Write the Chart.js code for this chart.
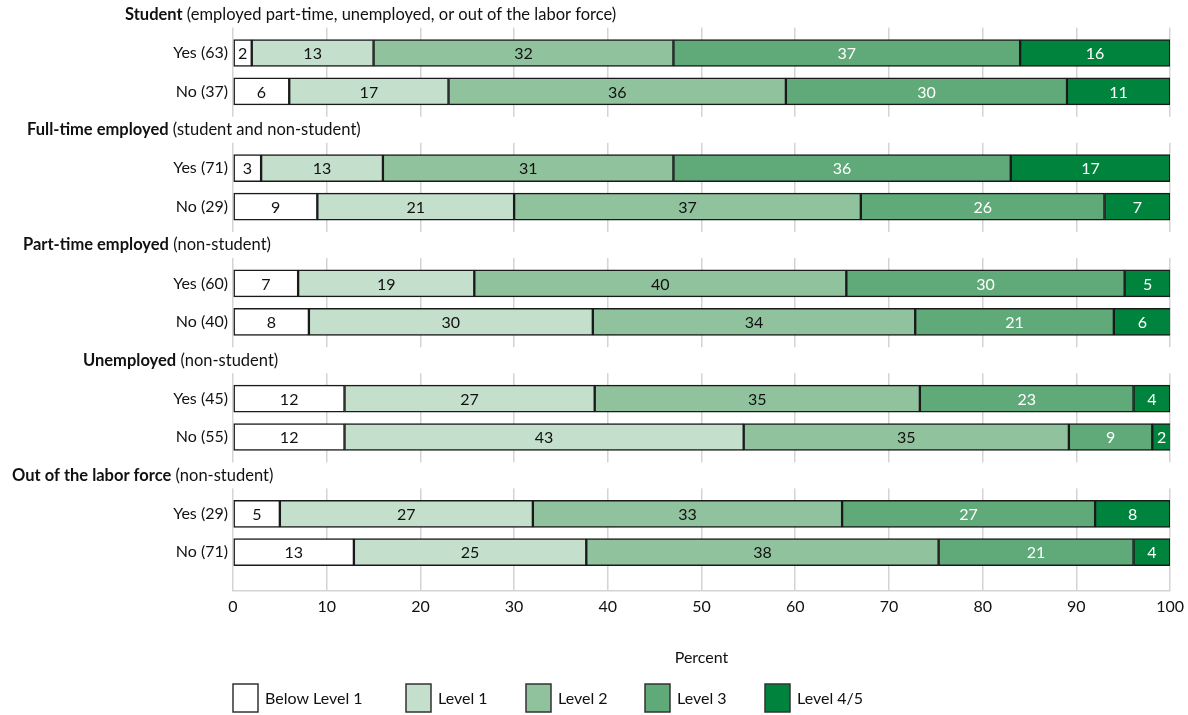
<!DOCTYPE html>
<html>
<head>
<meta charset="utf-8">
<script src="https://cdn.jsdelivr.net/npm/chart.js@4.4.0/dist/chart.umd.min.js"></script>
<style>
  html, body { margin: 0; padding: 0; background: #fff; }
  #wrap { width: 1188px; height: 715px; }
</style>
</head>
<body>
<div id="wrap"><canvas id="grafico"></canvas></div>
<script>
// linhas do eixo y; as linhas vazias são os títulos dos grupos
const rowLabels = ['', 'Yes (63)', 'No (37)', '', 'Yes (71)', 'No (29)', '', 'Yes (60)', 'No (40)',
  '', 'Yes (45)', 'No (55)', '', 'Yes (29)', 'No (71)', ''];
const headerRows = [0, 3, 6, 9, 12];
const groupTitles = [
  ['Student', ' (employed part-time, unemployed, or out of the labor force)'],
  ['Full-time employed', ' (student and non-student)'],
  ['Part-time employed', ' (non-student)'],
  ['Unemployed', ' (non-student)'],
  ['Out of the labor force', ' (non-student)']
];
const levels = ['Below Level 1', 'Level 1', 'Level 2', 'Level 3', 'Level 4/5'];

// valores por barra (Student yes/no, Full-time yes/no, Part-time yes/no, Unemployed yes/no, Out yes/no)
const belowLevel1 = [2, 6, 3, 9, 6.95, 8.1, 11.9, 11.9, 5, 12.9];
const level1 = [13, 17, 13, 21, 18.8, 30.3, 26.7, 42.6, 27, 24.8];
const level2 = [32, 36, 31, 37, 39.7, 34.4, 34.7, 34.7, 33, 37.6];
const level3 = [37, 30, 36, 26, 29.7, 21.2, 22.8, 8.9, 27, 20.8];
const level45 = [16, 11, 17, 7, 4.9, 6.1, 3.9, 2.0, 8, 3.9];

const FONTE = 'Lato, "Noto Sans", sans-serif';
const TEXTO = '#111111';
const cores = ['#ffffff', '#c4dfcc', '#91c29e', '#5faa78', '#00843d'];
const coresRotulo = [TEXTO, TEXTO, TEXTO, '#ffffff', '#ffffff'];
const headerLeft = [125, 27, 23, 83, 12];
const legendOffsets = [0, 173, 293, 412, 532];

function paraLinhas(valores) {
  let k = 0;
  return rowLabels.map(l => (l ? valores[k++] : null));
}

const series = [belowLevel1, level1, level2, level3, level45];

const rotulosPlugin = {
  id: 'rotulos',
  beforeDatasetsDraw(chart) {
    // apaga as linhas de grelha por trás dos títulos dos grupos
    const { ctx, chartArea, scales: { y } } = chart;
    ctx.save();
    ctx.fillStyle = '#ffffff';
    headerRows.forEach(i => {
      const yy = y.getPixelForValue(i);
      ctx.fillRect(chartArea.left - 3, yy - 13, chartArea.right - chartArea.left + 6, 26);
    });
    ctx.restore();
  },
  afterDatasetsDraw(chart) {
    const { ctx } = chart;
    ctx.save();
    ctx.font = '16px ' + FONTE;
    ctx.textAlign = 'center';
    ctx.textBaseline = 'middle';
    chart.data.datasets.forEach((ds, di) => {
      const meta = chart.getDatasetMeta(di);
      meta.data.forEach((el, i) => {
        const v = ds.data[i];
        if (v === null || v === undefined) return;
        ctx.fillStyle = coresRotulo[di];
        ctx.fillText(String(Math.round(v)), (el.x + el.base) / 2, el.y + 1);
      });
    });
    ctx.restore();
  },
  afterDraw(chart) {
    const { ctx, chartArea, scales: { y } } = chart;
    ctx.save();
    ctx.textBaseline = 'middle';
    ctx.textAlign = 'left';
    ctx.fillStyle = TEXTO;
    // títulos dos grupos
    headerRows.forEach((row, g) => {
      const yy = y.getPixelForValue(row);
      let x = headerLeft[g];
      ctx.font = 'bold 16.5px ' + FONTE;
      ctx.fillText(groupTitles[g][0], x, yy);
      x += ctx.measureText(groupTitles[g][0]).width;
      ctx.font = '16.5px ' + FONTE;
      ctx.fillText(groupTitles[g][1], x, yy);
    });
    // legenda
    const ly = 698;
    levels.forEach((nome, i) => {
      const x = chartArea.left + legendOffsets[i];
      ctx.fillStyle = cores[i];
      ctx.fillRect(x, ly - 14, 25, 28);
      ctx.strokeStyle = '#333333';
      ctx.lineWidth = 1.5;
      ctx.strokeRect(x, ly - 14, 25, 28);
      ctx.fillStyle = TEXTO;
      ctx.font = '16px ' + FONTE;
      ctx.fillText(nome, x + 32, ly + 1);
    });
    ctx.restore();
  }
};

new Chart(document.getElementById('grafico'), {
  type: 'bar',
  data: {
    labels: rowLabels,
    datasets: levels.map((nome, i) => ({
      label: nome,
      data: paraLinhas(series[i]),
      backgroundColor: cores[i],
      borderColor: '#1a1a1a',
      borderWidth: 1.5,
      borderSkipped: false,
      barThickness: 27
    }))
  },
  options: {
    indexAxis: 'y',
    responsive: true,
    maintainAspectRatio: false,
    animation: false,
    layout: { padding: { top: 5, right: 0, bottom: 48, left: 0 } },
    plugins: {
      legend: { display: false },
      tooltip: { enabled: false }
    },
    scales: {
      x: {
        type: 'linear',
        stacked: true,
        min: 0,
        max: 100,
        ticks: { stepSize: 10, color: TEXTO, font: { family: FONTE, size: 16 }, padding: 7 },
        grid: { color: '#d4d4d4', lineWidth: 1.5, drawTicks: false },
        border: { display: true, color: '#d4d4d4', width: 1.5 },
        title: {
          display: true,
          text: 'Percent',
          color: TEXTO,
          font: { family: FONTE, size: 16 },
          padding: { top: 24, bottom: 0 }
        },
        afterFit(scale) { scale.paddingRight = Math.max(0, scale.paddingRight - 3); }
      },
      y: {
        type: 'category',
        stacked: true,
        offset: false,
        grid: { display: false, drawTicks: false },
        border: { display: false },
        ticks: { color: TEXTO, font: { family: FONTE, size: 16 }, padding: 5, autoSkip: false },
        afterFit(scale) { scale.width = 233; }
      }
    }
  },
  plugins: [rotulosPlugin]
});
</script>
</body>
</html>
